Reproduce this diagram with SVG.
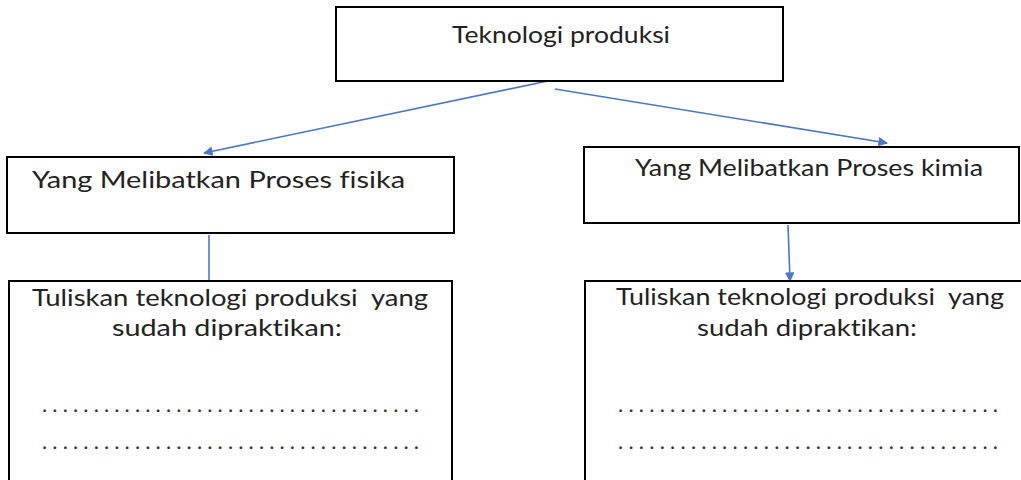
<svg xmlns="http://www.w3.org/2000/svg" width="1021" height="480" viewBox="0 0 1021 480">
<style>
.box{fill:#fff;stroke:#000;stroke-width:2}
.t{font-family:Lato,"Open Sans",sans-serif;fill:#222;font-size:24px;font-variant-ligatures:none;white-space:pre}
.d{font-family:Lato,"Open Sans",sans-serif;fill:#333;font-size:22px}
.c{stroke:#4a78c8;stroke-width:1.6;fill:none}
</style>
<defs>
<marker id="ah" viewBox="0 0 10 10" refX="9" refY="5" markerWidth="6" markerHeight="6" orient="auto" markerUnits="strokeWidth">
<path d="M0,0 L10,5 L0,10 z" fill="#4a78c8"/>
</marker>
</defs>
<rect width="1021" height="480" fill="#fff"/>
<g id="connectors">
<line class="c" x1="562" y1="78" x2="204" y2="153" marker-end="url(#ah)"/>
<line class="c" x1="555" y1="89" x2="887" y2="143" marker-end="url(#ah)"/>
<line class="c" x1="209" y1="235" x2="209" y2="280"/>
<line class="c" x1="788" y1="225" x2="790" y2="281" marker-end="url(#ah)"/>
</g>
<g id="n-top">
<rect class="box" x="336" y="7" width="447" height="74"/>
<text class="t" x="452" y="43" font-size="25" textLength="218" lengthAdjust="spacingAndGlyphs">Teknologi produksi</text>
</g>
<g id="n-fisika">
<rect class="box" x="7" y="157" width="447" height="76"/>
<text class="t" x="32" y="188" textLength="373" lengthAdjust="spacingAndGlyphs">Yang Melibatkan Proses fisika</text>
</g>
<g id="n-kimia">
<rect class="box" x="584" y="147" width="435" height="76"/>
<text class="t" x="635" y="176" textLength="348" lengthAdjust="spacingAndGlyphs">Yang Melibatkan Proses kimia</text>
</g>
<g id="n-left-bottom">
<rect class="box" x="9" y="281" width="443" height="210"/>
<text class="t" x="32" y="306" textLength="396" lengthAdjust="spacingAndGlyphs" xml:space="preserve">Tuliskan teknologi produksi  yang</text>
<text class="t" x="112" y="336" textLength="230" lengthAdjust="spacingAndGlyphs">sudah dipraktikan:</text>
<text class="d" x="42" y="412" textLength="377" lengthAdjust="spacing">.....................................</text>
<text class="d" x="42" y="449" textLength="377" lengthAdjust="spacing">.....................................</text>
</g>
<g id="n-right-bottom">
<rect class="box" x="585" y="281" width="445" height="210"/>
<text class="t" x="616" y="305" textLength="388" lengthAdjust="spacingAndGlyphs" xml:space="preserve">Tuliskan teknologi produksi  yang</text>
<text class="t" x="697" y="336" textLength="220" lengthAdjust="spacingAndGlyphs">sudah dipraktikan:</text>
<text class="d" x="618" y="412" textLength="380" lengthAdjust="spacing">.....................................</text>
<text class="d" x="618" y="449" textLength="380" lengthAdjust="spacing">.....................................</text>
</g>
</svg>
